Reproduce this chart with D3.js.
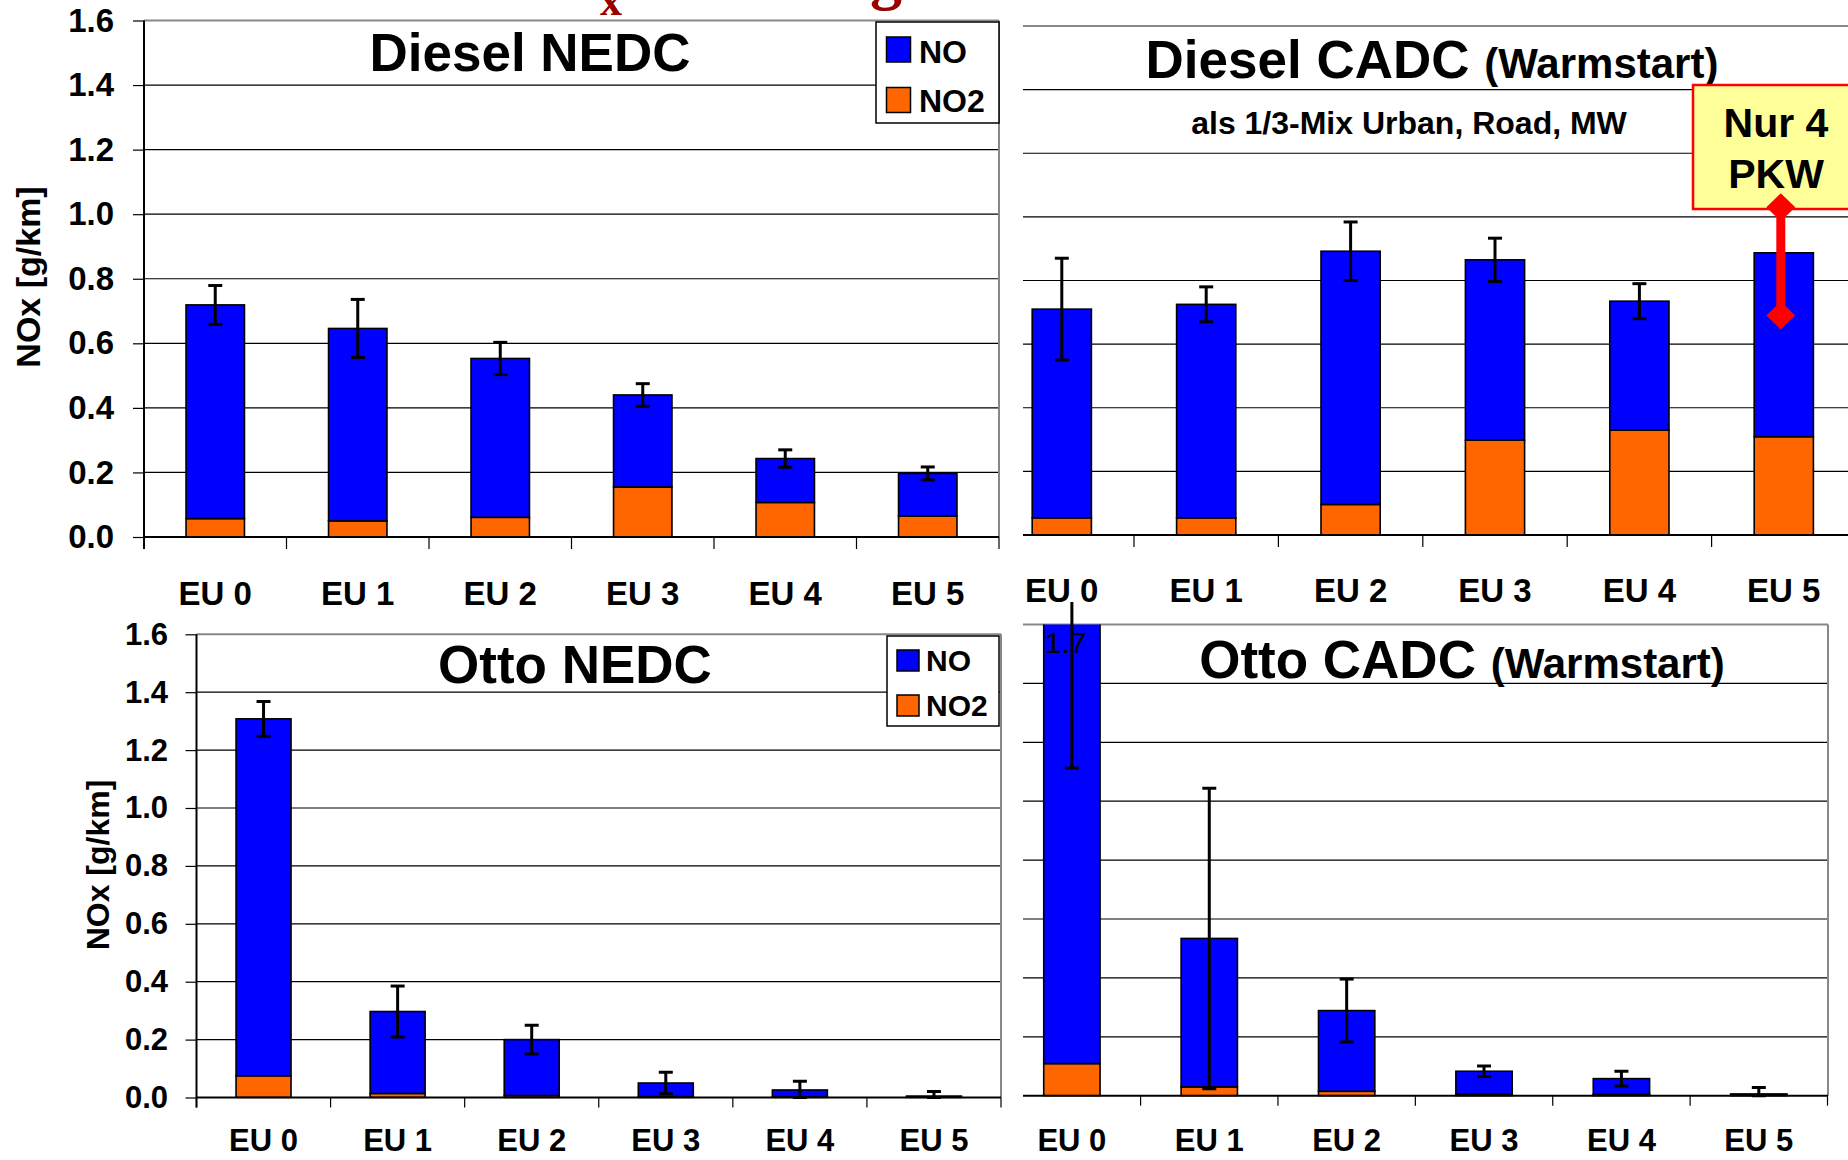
<!DOCTYPE html>
<html>
<head>
<meta charset="utf-8">
<script src="https://cdn.jsdelivr.net/npm/d3@7"></script>
<style>
  body { margin: 0; background: #fff; }
  svg { display: block; font-family: Arial, "Liberation Sans", sans-serif; }
</style>
</head>
<body>
<svg id="chart" width="1848" height="1160"></svg>
<script>
// Daten
const categories = ["EU 0", "EU 1", "EU 2", "EU 3", "EU 4", "EU 5"];
const yTicks = [0, 0.2, 0.4, 0.6, 0.8, 1.0, 1.2, 1.4, 1.6];

const dieselNedcNO2 = [0.057, 0.050, 0.061, 0.155, 0.107, 0.065];
const dieselNedcNO  = [0.662, 0.596, 0.492, 0.285, 0.136, 0.132];
const dieselNedcErr = [0.060, 0.090, 0.050, 0.035, 0.027, 0.020];

const dieselCadcNO2 = [0.054, 0.054, 0.096, 0.298, 0.330, 0.309];
const dieselCadcNO  = [0.656, 0.671, 0.796, 0.567, 0.405, 0.578];
const dieselCadcErr = [0.160, 0.055, 0.092, 0.068, 0.055, null];
const pkwRange = [0.69, 1.03]; // roter Balken bei EU 5

const ottoNedcNO2 = [0.075, 0.014, 0.007, 0.003, 0.002, 0.001];
const ottoNedcNO  = [1.233, 0.283, 0.193, 0.047, 0.024, 0.004];
const ottoNedcErr = [0.060, 0.088, 0.050, 0.037, 0.030, 0.016];

const ottoCadcNO2 = [0.109, 0.030, 0.015, 0.006, 0.005, 0.001];
const ottoCadcNO  = [1.591, 0.504, 0.274, 0.077, 0.053, 0.005];
const ottoCadcErr = [0.587, 0.510, 0.107, 0.018, 0.025, 0.022];

const colorNO = "#0000ff";
const colorNO2 = "#ff6600";

const svg = d3.select("#chart");

// Reste des abgeschnittenen Folientitels
svg.append("text").attr("x", 600).attr("y", 15)
  .attr("font-family", "'Liberation Serif', 'Times New Roman', serif")
  .attr("font-weight", "bold").attr("font-size", 44).attr("fill", "#990000").text("x");
svg.append("text").attr("x", 870).attr("y", -3)
  .attr("font-family", "'Liberation Serif', 'Times New Roman', serif")
  .attr("font-weight", "bold").attr("font-size", 64).attr("fill", "#990000").text("g");

function drawPanel(p) {
  const x = d3.scaleBand().domain(categories).range(p.xRange);
  const y = d3.scaleLinear().domain([0, 1.6]).range(p.yRange);
  const bw = x.bandwidth();
  const barW = bw * 0.41;
  const left = p.clipX[0], right = p.clipX[1];

  const g = svg.append("g");

  // Clip-Pfade
  svg.append("clipPath").attr("id", p.id + "-clip").append("rect")
    .attr("x", left).attr("y", y(1.6))
    .attr("width", right - left).attr("height", y(0) - y(1.6) + 1);
  const eTop = p.errTop !== undefined ? p.errTop : y(1.6);
  svg.append("clipPath").attr("id", p.id + "-eclip").append("rect")
    .attr("x", left).attr("y", eTop)
    .attr("width", right - left).attr("height", y(0) - eTop + 10);

  // Gitternetz
  g.selectAll("line.grid")
    .data(yTicks.filter(v => v > 0 && v < 1.6))
    .enter().append("line")
    .attr("x1", left).attr("x2", right)
    .attr("y1", d => y(d)).attr("y2", d => y(d))
    .attr("stroke", "#000").attr("stroke-width", 1.2);

  // Rahmen oben / rechts
  g.append("line").attr("x1", left).attr("x2", right)
    .attr("y1", y(1.6)).attr("y2", y(1.6))
    .attr("stroke", "#888").attr("stroke-width", 2);
  if (p.rightBorder) {
    g.append("line").attr("x1", right).attr("x2", right)
      .attr("y1", y(1.6)).attr("y2", y(0))
      .attr("stroke", "#888").attr("stroke-width", 2);
  }

  // gestapelte Balken
  const rows = categories.map((c, i) => ({ cat: c, NO2: p.no2[i], NO: p.no[i] }));
  const series = d3.stack().keys(["NO2", "NO"])(rows);
  const bars = g.append("g").attr("clip-path", "url(#" + p.id + "-clip)");
  bars.selectAll("g")
    .data(series)
    .enter().append("g")
    .attr("fill", d => d.key === "NO" ? colorNO : colorNO2)
    .selectAll("rect")
    .data(d => d)
    .enter().append("rect")
    .attr("x", d => x(d.data.cat) + (bw - barW) / 2)
    .attr("width", barW)
    .attr("y", d => y(d[1]))
    .attr("height", d => y(d[0]) - y(d[1]))
    .attr("stroke", "#000").attr("stroke-width", 1.6);

  // Wertbeschriftung (z.B. 1.7)
  if (p.valueLabel) {
    const i = p.valueLabel.index;
    g.append("text")
      .attr("x", x(categories[i]) + (bw - barW) / 2 + 1)
      .attr("y", y(1.6) + 28)
      .attr("font-size", 30).attr("fill", "#000")
      .text(p.valueLabel.text);
  }

  // Fehlerbalken
  const errs = g.append("g").attr("clip-path", "url(#" + p.id + "-eclip)")
    .attr("stroke", "#000").attr("stroke-width", 3);
  rows.forEach((r, i) => {
    const e = p.err[i];
    if (e == null) return;
    const total = r.NO + r.NO2;
    const cx = x(r.cat) + bw / 2;
    const y1 = y(total + e), y2 = y(Math.max(total - e, 0));
    errs.append("line").attr("x1", cx).attr("x2", cx).attr("y1", y1).attr("y2", y2);
    errs.append("line").attr("x1", cx - 7).attr("x2", cx + 7).attr("y1", y1).attr("y2", y1);
    errs.append("line").attr("x1", cx - 7).attr("x2", cx + 7).attr("y1", y2).attr("y2", y2);
  });

  // x-Achse
  g.append("line").attr("x1", left).attr("x2", right)
    .attr("y1", y(0)).attr("y2", y(0))
    .attr("stroke", "#000").attr("stroke-width", 2);
  const bounds = categories.map(c => x(c)).concat([p.xRange[1]])
    .filter(v => v >= left - 1 && v <= right + 1);
  g.selectAll("line.xtick")
    .data(bounds)
    .enter().append("line")
    .attr("x1", d => d).attr("x2", d => d)
    .attr("y1", y(0)).attr("y2", y(0) + p.tickLen)
    .attr("stroke", "#000").attr("stroke-width", 1.2);
  g.selectAll("text.xlab")
    .data(categories)
    .enter().append("text")
    .attr("x", d => x(d) + bw / 2)
    .attr("y", p.labelY)
    .attr("text-anchor", "middle")
    .attr("font-weight", "bold")
    .attr("font-size", p.labelSize)
    .text(d => d);

  // y-Achse
  if (p.yAxis) {
    const ax = g.append("g").attr("transform", "translate(" + p.xRange[0] + ",0)")
      .call(d3.axisLeft(y).tickValues(yTicks).tickFormat(d3.format(".1f"))
        .tickSize(11).tickSizeOuter(0).tickPadding(p.yAxis.padding));
    ax.select(".domain").remove();
    ax.selectAll(".tick line").attr("stroke", "#000").attr("stroke-width", 1.2);
    ax.selectAll(".tick text").attr("font-size", p.yAxis.size).attr("font-weight", "bold")
      .attr("font-family", "Arial, 'Liberation Sans', sans-serif").attr("fill", "#000");
    g.append("line").attr("x1", p.xRange[0]).attr("x2", p.xRange[0])
      .attr("y1", y(1.6)).attr("y2", y(0) + p.tickLen)
      .attr("stroke", "#000").attr("stroke-width", 2);
    g.append("text")
      .attr("transform", "translate(" + p.yTitle.x + "," + p.yTitle.y + ") rotate(-90)")
      .attr("text-anchor", "middle").attr("dy", "0.35em")
      .attr("font-weight", "bold").attr("font-size", p.yTitle.size)
      .text("NOx [g/km]");
  }

  // Titel
  const t = g.append("text")
    .attr("x", p.title.x).attr("y", p.title.y)
    .attr("text-anchor", "middle").attr("font-weight", "bold");
  t.append("tspan").attr("font-size", p.title.size).text(p.title.main);
  if (p.title.sub) {
    t.append("tspan").attr("font-size", p.title.size).text(" ");
    t.append("tspan").attr("font-size", p.title.subSize).text(p.title.sub);
  }

  // Legende
  if (p.legend) {
    const L = p.legend;
    const lg = g.append("g");
    lg.append("rect").attr("x", L.x).attr("y", L.y).attr("width", L.w).attr("height", L.h)
      .attr("fill", "#fff").attr("stroke", "#000").attr("stroke-width", 1.5);
    [["NO", colorNO], ["NO2", colorNO2]].forEach((item, i) => {
      lg.append("rect").attr("x", L.sx).attr("y", L.sy[i]).attr("width", L.sw).attr("height", L.sh)
        .attr("fill", item[1]).attr("stroke", "#000").attr("stroke-width", 1.5);
      lg.append("text").attr("x", L.tx).attr("y", L.ty[i])
        .attr("font-weight", "bold").attr("font-size", L.size).text(item[0]);
    });
  }

  return { x, y, bw, g };
}

// Diesel NEDC
drawPanel({
  id: "p1", no: dieselNedcNO, no2: dieselNedcNO2, err: dieselNedcErr,
  xRange: [144, 999], yRange: [537, 20.5], clipX: [144, 999], rightBorder: true,
  tickLen: 12, labelY: 605, labelSize: 33,
  yAxis: { size: 33, padding: 19 }, yTitle: { x: 28, y: 277, size: 34 },
  title: { x: 530, y: 71, main: "Diesel NEDC", size: 53 },
  legend: { x: 876, y: 22, w: 123, h: 101, sx: 886.5, sw: 24, sh: 25, sy: [37, 87.5],
            tx: 919, ty: [63, 112], size: 32 }
});

// Diesel CADC
const p2 = drawPanel({
  id: "p2", no: dieselCadcNO, no2: dieselCadcNO2, err: dieselCadcErr,
  xRange: [989.6, 1856], yRange: [535, 26], clipX: [1023, 1848], rightBorder: false,
  tickLen: 12, labelY: 602, labelSize: 33,
  title: { x: 1432, y: 78, main: "Diesel CADC", sub: "(Warmstart)", size: 53, subSize: 42 }
});
p2.g.append("text").attr("x", 1409).attr("y", 134)
  .attr("text-anchor", "middle").attr("font-weight", "bold").attr("font-size", 32)
  .text("als 1/3-Mix Urban, Road, MW");
p2.g.append("rect").attr("x", 1693).attr("y", 85).attr("width", 170).attr("height", 124)
  .attr("fill", "#ffff99").attr("stroke", "#ff0000").attr("stroke-width", 2.5);
p2.g.append("text").attr("x", 1776).attr("y", 137).attr("text-anchor", "middle")
  .attr("font-weight", "bold").attr("font-size", 41).text("Nur 4");
p2.g.append("text").attr("x", 1776).attr("y", 187.5).attr("text-anchor", "middle")
  .attr("font-weight", "bold").attr("font-size", 41).text("PKW");
{
  const cx = p2.x("EU 5") + p2.bw / 2 - 3;
  const yTop = p2.y(pkwRange[1]), yBot = p2.y(pkwRange[0]);
  p2.g.append("line").attr("x1", cx).attr("x2", cx).attr("y1", yTop).attr("y2", yBot)
    .attr("stroke", "#ff0000").attr("stroke-width", 9);
  [yTop, yBot].forEach(cy => {
    p2.g.append("path")
      .attr("d", `M${cx},${cy - 14}L${cx + 14.5},${cy}L${cx},${cy + 14}L${cx - 14.5},${cy}Z`)
      .attr("fill", "#ff0000");
  });
}

// Otto NEDC
drawPanel({
  id: "p3", no: ottoNedcNO, no2: ottoNedcNO2, err: ottoNedcErr,
  xRange: [196.5, 1001], yRange: [1097.5, 634.3], clipX: [196.5, 1001], rightBorder: true,
  tickLen: 10, labelY: 1151, labelSize: 31,
  yAxis: { size: 31, padding: 17.5 }, yTitle: { x: 98, y: 865, size: 32 },
  title: { x: 575, y: 683, main: "Otto NEDC", size: 53 },
  legend: { x: 887, y: 636, w: 112, h: 90, sx: 897, sw: 22, sh: 21, sy: [650, 695],
            tx: 926, ty: [671, 716], size: 30 }
});

// Otto CADC
drawPanel({
  id: "p4", no: ottoCadcNO, no2: ottoCadcNO2, err: ottoCadcErr,
  xRange: [1003.2, 1827.5], yRange: [1095.7, 624.5], clipX: [1023, 1828], rightBorder: true,
  errTop: 602, tickLen: 10, labelY: 1151, labelSize: 31,
  valueLabel: { index: 0, text: "1.7" },
  title: { x: 1462, y: 678, main: "Otto CADC", sub: "(Warmstart)", size: 53, subSize: 42 }
});
</script>
</body>
</html>
